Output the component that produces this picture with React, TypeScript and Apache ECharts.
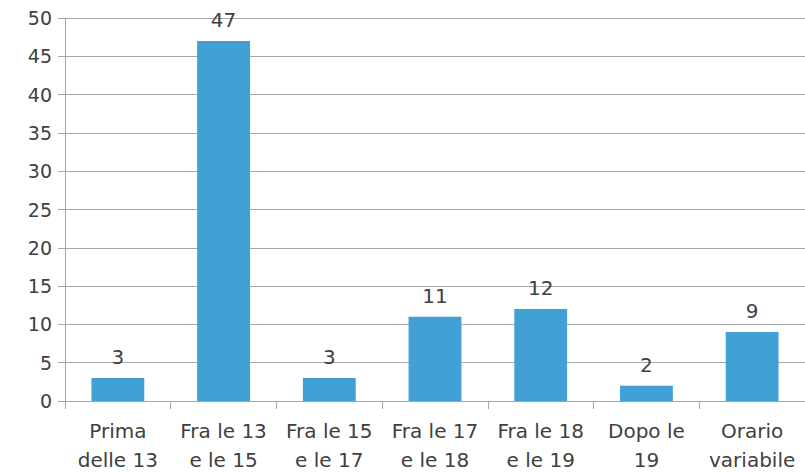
import React, { useEffect, useRef } from "react";
import * as echarts from "echarts";

const categories = [
  "Prima\ndelle 13",
  "Fra le 13\ne le 15",
  "Fra le 15\ne le 17",
  "Fra le 17\ne le 18",
  "Fra le 18\ne le 19",
  "Dopo le\n19",
  "Orario\nvariabile",
];
const values = [3, 47, 3, 11, 12, 2, 9];

const FONT = "DejaVu Sans";
const TEXT = "#404040";
const GRID = "#A6A6A6";

export default function App() {
  const ref = useRef<HTMLDivElement>(null);
  useEffect(() => {
    const chart = echarts.init(ref.current!, null, { renderer: "svg" });
    chart.setOption({
      animation: false,
      grid: { left: 65, width: 746, top: 18, height: 384, containLabel: false },
      xAxis: {
        type: "category",
        data: categories,
        axisLine: { show: true, lineStyle: { color: GRID, width: 1 } },
        axisTick: { show: true, length: 8, lineStyle: { color: GRID } },
        axisLabel: {
          color: TEXT,
          fontFamily: FONT,
          fontSize: 20,
          lineHeight: 29,
          margin: 15,
          interval: 0,
        },
      },
      yAxis: {
        type: "value",
        min: 0,
        max: 50,
        interval: 5,
        axisLine: { show: true, lineStyle: { color: GRID, width: 1 } },
        axisTick: { show: true, length: 7, lineStyle: { color: GRID } },
        axisLabel: {
          color: TEXT,
          fontFamily: FONT,
          fontSize: 19,
          margin: 13,
        },
        splitLine: { show: true, lineStyle: { color: GRID, width: 1 } },
      },
      series: [
        {
          type: "bar",
          data: values,
          barWidth: "50%",
          itemStyle: { color: "#41A1D4" },
          label: {
            show: true,
            position: "top",
            distance: 11,
            color: TEXT,
            fontFamily: FONT,
            fontSize: 20,
          },
        },
      ],
    });
    return () => chart.dispose();
  }, []);
  return (
    <div
      ref={ref}
      style={{ width: 805, height: 474, position: "absolute", left: 0, top: 0 }}
    />
  );
}
